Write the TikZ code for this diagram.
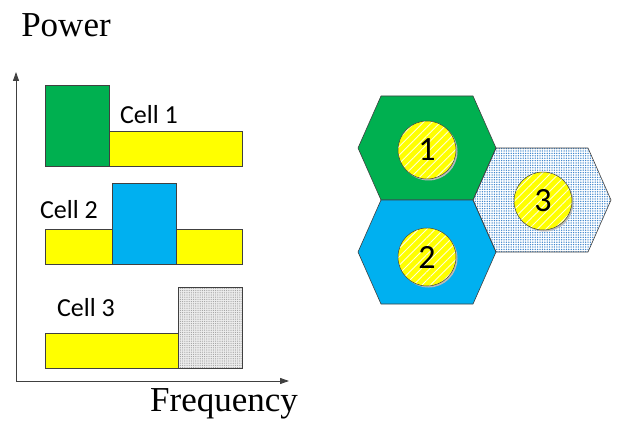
\documentclass[tikz,border=0pt]{standalone}
\usepackage{fontspec}
\setmainfont{Liberation Serif}
\newfontfamily\calib{Carlito}
\usetikzlibrary{patterns.meta,arrows.meta}
\definecolor{offgreen}{HTML}{00B050}
\definecolor{offblue}{HTML}{00B0F0}
\definecolor{offyellow}{HTML}{FFFF00}
\definecolor{edgegray}{HTML}{404040}
\definecolor{dotblue}{HTML}{3E86CC}
\tikzset{
  bar/.style={draw=edgegray, line width=0.8pt},
  axis/.style={draw=edgegray, line width=0.9pt, -{Triangle[length=9pt,width=6pt]}},
  celllabel/.style={font=\calib\fontsize{26}{30}\selectfont, inner sep=0pt},
  bigtext/.style={font=\fontsize{35}{42}\selectfont, inner sep=0pt},
  hexcell/.pic={\path[pic actions] (-69,0) -- (-46,-52) -- (46,-52) -- (69,0) -- (46,52) -- (-46,52) -- cycle;},
  cellcircle/.style={circle, minimum size=58pt, inner sep=0pt, draw=edgegray, line width=0.5pt,
    preaction={fill=offyellow},
    pattern={Lines[angle=45,distance=6pt,line width=0.9pt]}, pattern color=white!85!yellow,
    font=\calib\fontsize{34}{38}\selectfont},
  shadowcircle/.style={circle, minimum size=58pt, inner sep=0pt, fill=gray!55},
}
\begin{document}
\begin{tikzpicture}[x=1pt,y=-1pt]
\useasboundingbox (0,0) rectangle (617,427);
% axes
\coordinate (origin) at (16,381);
\coordinate (ytip) at (16,72);
\coordinate (xtip) at (289,381);
\draw[axis] (origin) -- (ytip);
\draw[axis] (origin) -- (xtip);
\node[bigtext] (power) at (66,25) {Power};
\node[bigtext] (freq) at (224,404) {Frequency};
% cell 1
\path[bar, fill=offyellow] (109,131) rectangle (242,166);
\path[bar, fill=offgreen] (45,85) rectangle (109,166);
\node[celllabel] (l1) at (149,115) {Cell 1};
% cell 2
\path[bar, fill=offyellow] (45,229) rectangle (242,264);
\path[bar, fill=offblue] (112,183) rectangle (176,264);
\node[celllabel] (l2) at (69,210) {Cell 2};
% cell 3
\path[bar, fill=offyellow] (45,333) rectangle (178,368);
\path[bar, preaction={fill=gray!15}, pattern={Dots[distance=2.2pt,radius=0.6pt]}, pattern color=gray!75] (178,287) rectangle (242,368);
\node[celllabel] (l3) at (86,308) {Cell 3};
% hexagons
\pic[draw=edgegray, line width=0.6pt, fill=offgreen] at (427,148) {hexcell};
\pic[draw=edgegray, line width=0.6pt, fill=offblue] at (427,252) {hexcell};
\pic[draw=edgegray, line width=0.6pt, preaction={fill=blue!10!cyan!8}, pattern={Dots[distance=2.4pt,radius=0.75pt]}, pattern color=dotblue] at (542,200) {hexcell};
% circles
\node[shadowcircle] (s1) at (428.5,151.5) {};
\node[shadowcircle] (s2) at (428.5,258.5) {};
\node[shadowcircle] (s3) at (544.5,202.5) {};
\node[cellcircle] (c1) at (427,150) {1};
\node[cellcircle] (c2) at (427,257) {2};
\node[cellcircle] (c3) at (543,201) {3};
\end{tikzpicture}
\end{document}
